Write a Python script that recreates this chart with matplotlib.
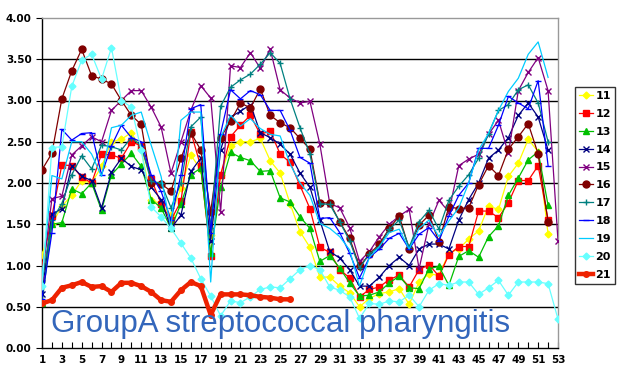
import numpy as np
import matplotlib
matplotlib.use("Agg")
from matplotlib import pyplot as plt

weeks = np.arange(1, 54)
nan = np.nan

s11 = [1.13, 1.50, 1.72, 1.85, 2.03, 2.00, 2.20, 2.50, 2.53, 2.61, 2.41, 1.79, 1.75, 1.61, 1.94, 2.34, 2.16, 1.37,
       2.10, 2.45, 2.50, 2.50, 2.54, 2.27, 2.12, 1.75, 1.41, 1.22, 0.86, 0.86, 0.75, 0.67, 0.50, 0.60, 0.66, 0.68,
       0.72, 0.53, 0.80, 0.90, 0.88, 1.15, 1.20, 1.32, 1.42, 1.72, 1.68, 2.08, 2.24, 2.53, 2.38, 1.38, nan]
s12 = [1.00, 1.60, 2.22, 2.21, 2.07, 2.00, 2.35, 2.34, 2.30, 2.50, 2.45, 2.05, 1.75, 1.55, 1.78, 2.62, 2.20, 1.11,
       2.10, 2.56, 2.70, 2.82, 2.59, 2.63, 2.35, 2.25, 1.97, 1.69, 1.22, 1.16, 0.95, 0.85, 0.62, 0.71, 0.74, 0.83,
       0.88, 0.74, 0.95, 1.01, 0.87, 1.13, 1.23, 1.23, 1.66, 1.66, 1.58, 1.76, 2.03, 2.03, 2.21, 1.55, nan]
s13 = [0.55, 1.50, 1.52, 1.93, 1.87, 2.00, 1.67, 2.10, 2.23, 2.36, 2.20, 1.80, 1.70, 1.45, 1.75, 2.10, 2.18, 1.15,
       1.95, 2.37, 2.31, 2.27, 2.14, 2.15, 1.82, 1.77, 1.59, 1.45, 1.05, 1.12, 0.97, 0.79, 0.63, 0.64, 0.68, 0.79,
       0.87, 0.73, 0.72, 0.96, 0.99, 0.76, 1.11, 1.18, 1.10, 1.35, 1.48, 1.85, 2.06, 2.28, 2.38, 1.73, nan]
s14 = [0.65, 1.62, 1.69, 2.21, 2.08, 2.03, 1.70, 2.13, 2.30, 2.20, 2.16, 1.95, 1.80, 1.45, 1.61, 2.14, 2.30, 1.30,
       2.40, 2.80, 2.87, 2.95, 2.61, 2.55, 2.47, 2.35, 2.12, 1.95, 1.55, 1.17, 1.09, 0.95, 0.75, 0.75, 0.86, 1.00,
       1.10, 1.00, 1.20, 1.26, 1.26, 1.20, 1.55, 1.80, 2.00, 2.30, 2.40, 2.55, 2.82, 2.97, 2.80, 2.40, nan]
s15 = [0.85, 1.81, 1.84, 2.34, 2.45, 2.56, 2.50, 2.88, 3.00, 3.12, 3.12, 2.92, 2.68, 2.12, 2.50, 2.88, 3.18, 3.03,
       1.65, 3.42, 3.40, 3.58, 3.39, 3.62, 3.13, 3.03, 2.97, 2.99, 2.47, 1.75, 1.70, 1.46, 1.05, 1.17, 1.35, 1.50,
       1.60, 1.68, 0.96, 1.50, 1.79, 1.65, 2.21, 2.29, 2.35, 2.59, 2.76, 2.36, 3.12, 3.34, 3.52, 3.12, 1.30]
s16 = [2.16, 2.36, 3.02, 3.36, 3.62, 3.30, 3.26, 3.20, 3.00, 2.82, 2.71, 2.00, 1.99, 1.90, 2.30, 2.61, 2.40, 1.65,
       2.55, 2.75, 2.97, 2.91, 3.14, 2.82, 2.73, 2.67, 2.54, 2.41, 1.76, 1.76, 1.53, 1.33, 0.99, 1.14, 1.26, 1.45,
       1.60, 1.20, 1.49, 1.61, 1.29, 1.71, 1.69, 1.70, 1.98, 2.21, 2.09, 2.41, 2.56, 2.72, 2.35, 1.53, nan]
s17 = [0.80, 1.55, 1.75, 2.10, 2.33, 2.17, 2.46, 2.44, 2.40, 2.55, 2.45, 2.02, 2.00, 1.70, 2.00, 2.68, 2.80, 1.45,
       2.93, 3.16, 3.25, 3.32, 3.44, 3.58, 3.45, 3.02, 2.67, 2.35, 1.75, 1.74, 1.53, 1.30, 0.97, 1.14, 1.23, 1.44,
       1.55, 1.22, 1.53, 1.67, 1.44, 1.79, 1.96, 2.10, 2.30, 2.60, 2.88, 2.95, 3.13, 3.19, 2.97, 2.50, nan]
s18 = [0.60, 1.40, 2.65, 2.52, 2.60, 2.61, 2.10, 2.45, 2.70, 2.55, 2.50, 2.10, 1.90, 1.55, 2.10, 2.90, 2.95, 1.40,
       2.60, 3.13, 3.02, 3.12, 3.07, 2.88, 2.88, 2.64, 2.31, 2.24, 1.57, 1.58, 1.40, 1.15, 0.85, 1.10, 1.20, 1.33,
       1.39, 1.20, 1.38, 1.46, 1.30, 1.60, 1.85, 2.00, 2.42, 2.42, 2.70, 3.05, 2.97, 2.90, 3.24, 2.21, nan]
s19 = [0.85, 2.09, 2.05, 2.50, 2.50, 2.35, 2.08, 2.67, 2.70, 2.82, 2.86, 2.46, 2.08, 1.45, 2.76, 2.86, 2.86, 0.80,
       2.55, 2.82, 2.69, 2.78, 2.66, 2.59, 2.57, 2.23, 2.00, 1.85, 1.51, 1.45, 1.35, 1.19, 0.75, 1.10, 1.23, 1.40,
       1.44, 1.20, 1.45, 1.55, 1.35, 1.54, 1.70, 2.00, 2.40, 2.60, 2.88, 3.11, 3.27, 3.56, 3.71, 3.28, nan]
s20 = [0.75, 2.43, 2.44, 3.17, 3.49, 3.56, 3.26, 3.64, 3.00, 2.92, 2.40, 1.71, 1.59, 1.45, 1.27, 1.09, 0.84, 0.63,
       0.39, 0.57, 0.55, 0.62, 0.71, 0.74, 0.73, 0.84, 0.95, 1.00, 0.95, 0.74, 0.70, 0.62, 0.36, 0.54, 0.53, 0.57,
       0.56, 0.64, 0.50, 0.70, 0.78, 0.76, 0.80, 0.80, 0.65, 0.73, 0.82, 0.64, 0.80, 0.80, 0.80, 0.78, 0.35]
s21 = [0.54, 0.58, 0.73, 0.76, 0.80, 0.74, 0.75, 0.68, 0.79, 0.79, 0.75, 0.68, 0.58, 0.56, 0.70, 0.80, 0.75, 0.40,
       0.65, 0.65, 0.65, 0.64, 0.62, 0.61, 0.59, 0.59]

labels = ["11", "12", "13", "14", "15", "16", "17", "18", "19", "20", "21"]
series = [s11, s12, s13, s14, s15, s16, s17, s18, s19, s20, s21]
colors = ["#FFFF00", "#FF0000", "#00C000", "#000080", "#800080", "#800000",
          "#008080", "#0000FF", "#00CCFF", "#66FFFF", "#EE2200"]
markers = ["D", "s", "^", "x", "x", "o", "+", "_", "", "D", "o"]
msizes = [3.5, 4.5, 4.5, 4, 4, 5, 5, 5, 0, 3.5, 4]

fig = plt.figure(figsize=(6.2, 3.84), dpi=100)
ax = fig.add_axes([42 / 620, 1 - 348 / 384, 516 / 620, 330 / 384])

for i, s in enumerate(series):
    y = np.array(s, dtype=float)
    x = weeks[:len(y)]
    lw = 3.2 if labels[i] == "21" else 0.9
    ax.plot(x, y, color=colors[i], lw=lw, marker=markers[i] if markers[i] else None,
            ms=msizes[i], mew=1.0, label=labels[i], zorder=3 if labels[i] != "21" else 4)

ax.set_xlim(1, 53)
ax.set_ylim(0, 4)
yt = np.arange(0, 4.01, 0.5)
ax.set_yticks(yt)
ax.set_yticklabels(["%.2f" % v for v in yt], fontsize=7.5, fontweight="bold")
for v in yt[1:-1]:
    ax.axhline(v, color="black", lw=1.0, zorder=1)
ax.set_xticks(weeks)
ax.set_xticklabels([str(w) if w % 2 == 1 else "" for w in weeks], fontsize=7.5, fontweight="bold")
ax.tick_params(axis="x", direction="in", length=4, width=0.8, pad=5)
ax.tick_params(axis="y", direction="out", length=4, width=0.8)
ax.spines["left"].set_color("black")
ax.spines["bottom"].set_color("black")
ax.spines["top"].set_color("#999999")
ax.spines["right"].set_color("#999999")
for sp in ax.spines.values():
    sp.set_linewidth(1.0)

ax.text(1.9, 0.29, "GroupA streptococcal pharyngitis", color="#3366BB", fontsize=22.5,
        family="Liberation Sans", va="center", ha="left", zorder=5)

leg = fig.legend(loc="upper left", bbox_to_anchor=(575 / 620, 1 - 87 / 384), frameon=True,
                 fancybox=False, edgecolor="black", fontsize=8, handlelength=1.3,
                 handletextpad=0.2, borderpad=0.35, labelspacing=0.71, borderaxespad=0)
leg.get_frame().set_linewidth(1.0)
for t in leg.get_texts():
    t.set_fontweight("bold")

fig.savefig("out.png", dpi=100)
